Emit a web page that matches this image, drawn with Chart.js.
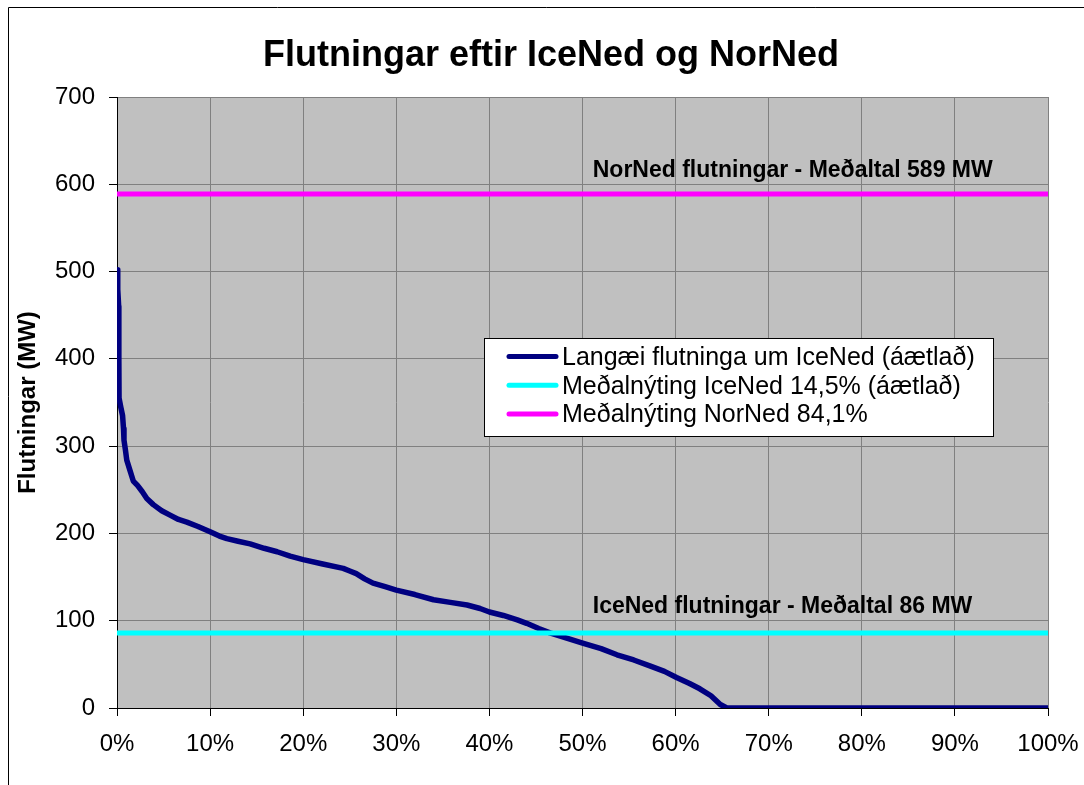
<!DOCTYPE html>
<html>
<head>
<meta charset="utf-8">
<script src="https://cdn.jsdelivr.net/npm/chart.js@4.4.0/dist/chart.umd.min.js"></script>
<style>
  html, body { margin: 0; padding: 0; background: #fff; }
  #wrap { position: relative; width: 1084px; height: 785px; }
</style>
</head>
<body>
<div id="wrap"><canvas id="chart" width="1084" height="785"></canvas></div>
<script>
const FONT = '"Liberation Sans", Arial, sans-serif';

// duration curve: share of time (%) and transfer (MW)
const durationShare = [0, 0.08, 0.18, 0.2, 0.22, 0.4, 0.6, 0.7, 0.75, 0.9, 1.05, 1.4, 1.75, 2.2, 2.7, 3.2, 3.9, 4.8,
  5.7, 6.6, 7.5, 8.7, 10.0, 11.0, 11.8, 13.0, 14.3, 15.8, 17.2, 18.6, 20.0, 22.1, 24.3, 25.0, 25.7, 26.6,
  27.5, 28.8, 30.0, 32.0, 34.0, 35.8, 37.6, 39.0, 40.0, 41.5, 43.0, 44.0, 45.3, 46.5, 48.3, 50.1, 52.0,
  53.7, 55.5, 57.3, 58.8, 60.1, 61.5, 62.6, 63.8, 64.8, 65.5, 100];
const durationMW = [502, 480, 460, 400, 355, 345, 335, 320, 307, 296, 284, 272, 260, 255, 248, 240, 233, 226,
  221, 216, 213, 208, 202, 197, 194, 191, 188, 183, 179, 174, 170, 165, 160, 157, 154, 148,
  143, 139, 135, 130, 124, 121, 118, 114, 110, 106, 101, 97, 91, 86, 80, 74, 68,
  61, 55, 48, 42, 35, 28, 22, 14, 4, 0, 0];

const seriesNames = ['Langæi flutninga um IceNed (áætlað)', 'Meðalnýting IceNed 14,5% (áætlað)', 'Meðalnýting NorNed 84,1%'];
const seriesColors = ['#000080', '#00FFFF', '#FF00FF'];

const averageMW = [86, 589];
const averageLabels = ['IceNed flutningar - Meðaltal 86 MW', 'NorNed flutningar - Meðaltal 589 MW'];
const averageLabelShare = [51.1, 51.1];

const xTicks = [0, 10, 20, 30, 40, 50, 60, 70, 80, 90, 100];
const yTicks = [0, 100, 200, 300, 400, 500, 600, 700];

const durationPoints = durationShare.map((x, i) => ({ x, y: durationMW[i] }));

const framePlugin = {
  id: 'frame',
  beforeDraw(chart) {
    const { ctx, chartArea } = chart;
    ctx.save();
    ctx.fillStyle = '#fff';
    ctx.fillRect(0, 0, chart.width, chart.height);
    ctx.strokeStyle = '#000';
    ctx.lineWidth = 1;
    ctx.beginPath();
    ctx.moveTo(8.5, chart.height);
    ctx.lineTo(8.5, 7.5);
    ctx.lineTo(chart.width, 7.5);
    ctx.stroke();
    // plot background
    ctx.fillStyle = '#C0C0C0';
    ctx.fillRect(chartArea.left, chartArea.top, chartArea.right - chartArea.left, chartArea.bottom - chartArea.top);
    ctx.restore();
  }
};

const textPlugin = {
  id: 'texts',
  afterDatasetsDraw(chart) {
    const { ctx, scales } = chart;
    ctx.save();
    // title
    ctx.fillStyle = '#000';
    ctx.font = 'bold 36px ' + FONT;
    ctx.textAlign = 'center';
    ctx.textBaseline = 'alphabetic';
    ctx.fillText('Flutningar eftir IceNed og NorNed', 551, 66);

    // average labels
    ctx.font = 'bold 23px ' + FONT;
    ctx.textAlign = 'left';
    const lift = [20, 17];
    averageLabels.forEach((label, i) => {
      const x = scales.x.getPixelForValue(averageLabelShare[i]);
      const y = scales.y.getPixelForValue(averageMW[i]) - lift[i];
      ctx.fillText(label, x, y);
    });

    // legend box
    const box = { left: 484.5, top: 338.5, width: 509, height: 98 };
    ctx.fillStyle = '#fff';
    ctx.fillRect(box.left, box.top, box.width, box.height);
    ctx.strokeStyle = '#000';
    ctx.lineWidth = 1;
    ctx.strokeRect(box.left, box.top, box.width, box.height);
    ctx.font = '25px ' + FONT;
    ctx.lineCap = 'round';
    seriesNames.forEach((name, i) => {
      const lineY = 356.5 + i * 28.7;
      ctx.strokeStyle = seriesColors[i];
      ctx.lineWidth = 5;
      ctx.beginPath();
      ctx.moveTo(509, lineY);
      ctx.lineTo(556, lineY);
      ctx.stroke();
      ctx.fillStyle = '#000';
      ctx.fillText(name, 562, lineY + 8.5);
    });
    ctx.restore();
  }
};

new Chart(document.getElementById('chart'), {
  type: 'line',
  data: {
    datasets: [
      {
        label: seriesNames[0],
        data: durationPoints,
        borderColor: seriesColors[0],
        borderWidth: 5.5,
        pointRadius: 0,
        tension: 0,
        borderJoinStyle: 'round',
        order: 3
      },
      {
        label: seriesNames[1],
        data: [{ x: xTicks[0], y: averageMW[0] }, { x: xTicks[xTicks.length - 1], y: averageMW[0] }],
        borderColor: seriesColors[1],
        borderWidth: 5,
        pointRadius: 0,
        order: 1
      },
      {
        label: seriesNames[2],
        data: [{ x: xTicks[0], y: averageMW[1] }, { x: xTicks[xTicks.length - 1], y: averageMW[1] }],
        borderColor: seriesColors[2],
        borderWidth: 5,
        pointRadius: 0,
        order: 2
      }
    ]
  },
  options: {
    responsive: false,
    animation: false,
    layout: { padding: { top: 97, right: 36, left: 0, bottom: 0 } },
    plugins: {
      legend: { display: false },
      title: { display: false },
      tooltip: { enabled: false }
    },
    scales: {
      x: {
        type: 'linear',
        min: xTicks[0],
        max: xTicks[xTicks.length - 1],
        afterBuildTicks: scale => { scale.ticks = xTicks.map(v => ({ value: v })); },
        afterFit: scale => {
          scale.height = 77;
          scale.paddingLeft = 0;
          scale.paddingRight = 0;
        },
        ticks: {
          color: '#000',
          font: { family: FONT, size: 24 },
          padding: 14,
          maxRotation: 0,
          callback: v => v + '%'
        },
        grid: { color: '#808080', tickColor: '#000', tickLength: 8 },
        border: { color: '#000', width: 1 }
      },
      y: {
        min: yTicks[0],
        max: yTicks[yTicks.length - 1],
        afterBuildTicks: scale => { scale.ticks = yTicks.map(v => ({ value: v })); },
        afterFit: scale => { scale.width = 117; },
        ticks: {
          color: '#000',
          font: { family: FONT, size: 24 },
          padding: 14
        },
        grid: { color: '#808080', tickColor: '#000', tickLength: 8 },
        border: { color: '#000', width: 1 },
        title: {
          display: true,
          text: 'Flutningar (MW)',
          color: '#000',
          font: { family: FONT, size: 24, weight: 'bold' },
          padding: { top: 14, bottom: 0 }
        }
      }
    }
  },
  plugins: [framePlugin, textPlugin]
});
</script>
</body>
</html>
